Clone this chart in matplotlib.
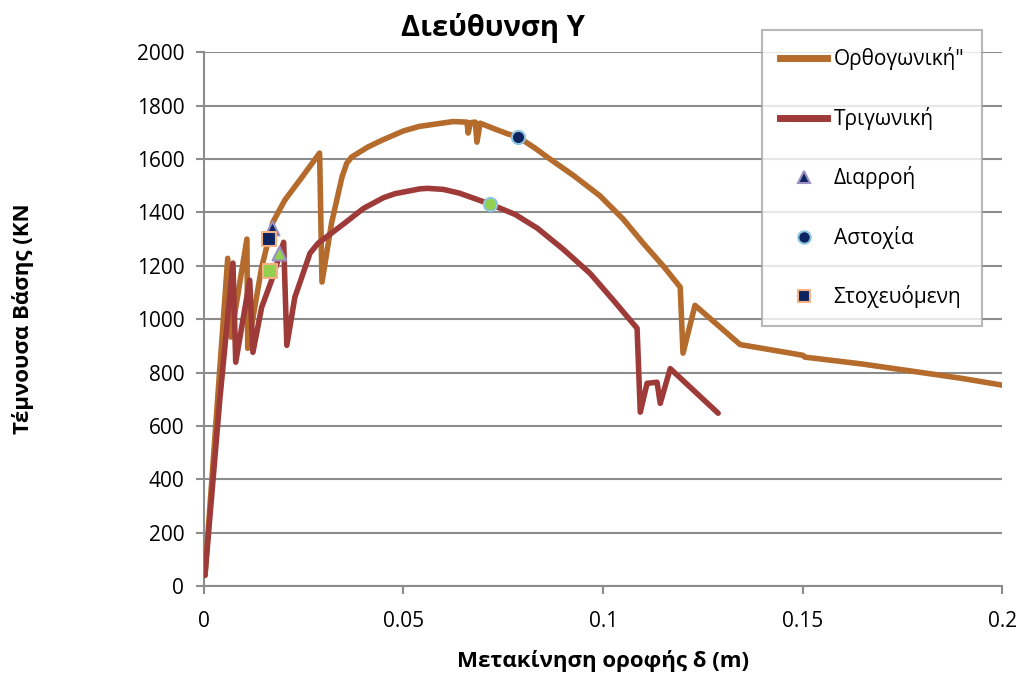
import matplotlib
matplotlib.use("Agg")
import matplotlib.pyplot as plt
from matplotlib.lines import Line2D

plt.rcParams['font.family'] = ['Open Sans', 'DejaVu Sans']

# Ορθογωνική κατανομή (pushover curve)
orth_x = [0.0003, 0.006, 0.0068, 0.0108, 0.011, 0.0145, 0.0173, 0.0203, 0.0246, 0.029,
          0.0296, 0.032, 0.0346, 0.0358, 0.037, 0.041, 0.0446, 0.05, 0.054, 0.0624,
          0.0659, 0.0662, 0.0668, 0.068, 0.0684, 0.0692, 0.0724, 0.0759, 0.0787, 0.083,
          0.086, 0.0925, 0.0992, 0.105, 0.11, 0.115, 0.1193, 0.12, 0.123, 0.1343,
          0.15, 0.1505, 0.165, 0.1845, 0.19, 0.2]
orth_y = [41, 1228, 933, 1300, 891, 1195, 1363, 1446, 1532, 1622,
          1139, 1360, 1532, 1584, 1607, 1644, 1670, 1705, 1722, 1740,
          1738, 1697, 1736, 1738, 1663, 1734, 1715, 1695, 1682, 1640,
          1607, 1539, 1462, 1375, 1285, 1200, 1120, 873, 1052, 905,
          865, 858, 832, 790, 778, 753]

# Τριγωνική κατανομή
tri_x = [0.0003, 0.004, 0.0073, 0.008, 0.0115, 0.0123, 0.0145, 0.017, 0.020, 0.0208,
         0.0228, 0.0266, 0.0286, 0.0353, 0.04, 0.045, 0.0479, 0.0541, 0.056, 0.06,
         0.064, 0.0717, 0.078, 0.0835, 0.09, 0.0967, 0.1025, 0.1085, 0.1093, 0.111,
         0.1135, 0.1143, 0.1168, 0.1288]
tri_y = [41, 697, 1210, 839, 1146, 876, 1045, 1146, 1288, 902,
         1082, 1247, 1284, 1360, 1415, 1455, 1470, 1488, 1490, 1486,
         1472, 1431, 1392, 1341, 1262, 1172, 1072, 966, 652, 760,
         764, 685, 815, 648]

# σημεία επιτελεστικότητας (navy: ορθογωνική, green: τριγωνική)
yield_x = [0.017, 0.0188]
yield_y = [1341, 1247]
fail_x = [0.0787, 0.0717]
fail_y = [1682, 1431]
target_x = [0.0163, 0.0165]
target_y = [1300, 1180]

orange = '#B46B2C'
red = '#9E3B39'
navy = '#0E2461'
green = '#92D050'

fig = plt.figure(figsize=(10.24, 6.77), dpi=100)
ax = fig.add_axes([0.199, 0.134, 0.78, 0.789])

ax.plot(orth_x, orth_y, color=orange, lw=4, solid_joinstyle='round', solid_capstyle='round', zorder=3)
ax.plot(tri_x, tri_y, color=red, lw=4, solid_joinstyle='round', solid_capstyle='round', zorder=3)

ax.scatter(yield_x[0], yield_y[0], marker='^', s=100, c=navy, edgecolors='#9B8FC2', linewidths=1.5, zorder=5)
ax.scatter(yield_x[1], yield_y[1], marker='^', s=100, c=green, edgecolors='#9B8FC2', linewidths=1.5, zorder=5)
ax.scatter(fail_x[0], fail_y[0], marker='o', s=90, c=navy, edgecolors='#8EC6E0', linewidths=1.5, zorder=5)
ax.scatter(fail_x[1], fail_y[1], marker='o', s=90, c=green, edgecolors='#8EC6E0', linewidths=1.5, zorder=5)
ax.scatter(target_x[0], target_y[0], marker='s', s=90, c=navy, edgecolors='#F4B183', linewidths=1.5, zorder=5)
ax.scatter(target_x[1], target_y[1], marker='s', s=90, c=green, edgecolors='#F4B183', linewidths=1.5, zorder=5)

ax.set_xlim(0, 0.2)
ax.set_ylim(0, 2000)
ax.set_xticks([0, 0.05, 0.1, 0.15, 0.2])
ax.set_xticklabels(['0', '0.05', '0.1', '0.15', '0.2'])
ax.set_yticks(range(0, 2001, 200))
ax.yaxis.grid(True, color='#8C8C8C', lw=1.5)
ax.set_axisbelow(True)
for s in ['top', 'right']:
    ax.spines[s].set_visible(False)
for s in ['left', 'bottom']:
    ax.spines[s].set_color('#8C8C8C')
    ax.spines[s].set_linewidth(1.5)
ax.tick_params(axis='both', colors='#8C8C8C', labelcolor='black', labelsize=15, length=6, width=1.5)
ax.tick_params(axis='x', pad=12)
ax.tick_params(axis='y', pad=8)

fig.text(0.481, 0.958, 'Διεύθυνση Υ', ha='center', va='center', fontsize=21, fontweight='bold')
fig.text(0.589, 0.023, 'Μετακίνηση οροφής δ (m)', ha='center', va='center', fontsize=16, fontweight='bold')
fig.text(0.022, 0.53, 'Τέμνουσα Βάσης (KN', ha='center', va='center', rotation=90, fontsize=16, fontweight='bold')

handles = [
    Line2D([], [], color=orange, lw=5),
    Line2D([], [], color=red, lw=5),
    Line2D([], [], ls='none', marker='^', ms=9, color=navy, markeredgecolor='#9B8FC2', markeredgewidth=1.5),
    Line2D([], [], ls='none', marker='o', ms=9, color=navy, markeredgecolor='#8EC6E0', markeredgewidth=1.5),
    Line2D([], [], ls='none', marker='s', ms=9, color=navy, markeredgecolor='#F4B183', markeredgewidth=1.5),
]
labels = ['Ορθογωνική"', 'Τριγωνική', 'Διαρροή', 'Αστοχία', 'Στοχευόμενη']
leg = fig.legend(handles, labels, loc='upper left', bbox_to_anchor=(0.744, 0.956),
                 frameon=True, fancybox=False, edgecolor='#A6A6A6', fontsize=15,
                 handlelength=2.3, labelspacing=1.75, borderpad=0.85, handletextpad=0.3,
                 borderaxespad=0)
leg.get_frame().set_linewidth(1.5)

fig.savefig('out.png', dpi=100)
